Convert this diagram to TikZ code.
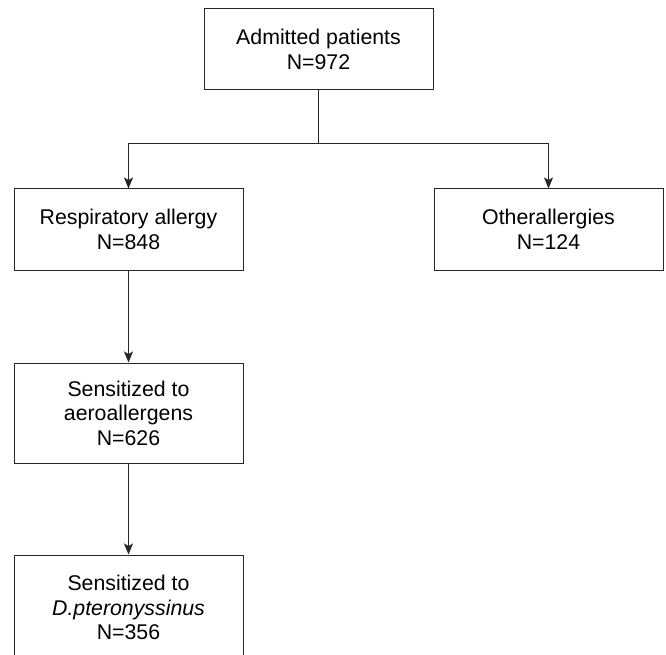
\documentclass[tikz,border=0pt]{standalone}
\usepackage{fontspec}
\setmainfont{Liberation Sans}
\usetikzlibrary{arrows.meta}
\begin{document}
\begin{tikzpicture}[x=1pt,y=-1pt,
  box/.style={draw=black!85, line width=1pt, rectangle, minimum width=229pt, align=center,
    font=\fontsize{21.3}{24.5}\selectfont, inner sep=0pt},
  conn/.style={draw=black!85, line width=1pt},
  arr/.style={conn, -{Stealth[length=11pt,width=9pt,inset=2.5pt]}}]
\useasboundingbox (0,0) rectangle (666,655);
\node[box, minimum height=81pt] (b1) at (318.5,49.5) {Admitted patients\\N=972};
\node[box, minimum height=81pt] (b2) at (128.5,229.5) {Respiratory allergy\\N=848};
\node[box, minimum height=81pt] (b3) at (548.5,229.5) {Otherallergies\\N=124};
\node[box, minimum height=100pt] (b4) at (128.5,413) {Sensitized to\\aeroallergens\\N=626};
\node[box, minimum height=105pt] (b5) at (128.5,607.5) {Sensitized to\\\textit{D.pteronyssinus}\\N=356};
\coordinate (j) at (318.5,144);
\draw[conn] (b1.south) -- (j);
\draw[arr] (j) -| (b2.north);
\draw[arr] (j) -| (b3.north);
\draw[arr] (b2.south) -- (b4.north);
\draw[arr] (b4.south) -- (b5.north);
\end{tikzpicture}
\end{document}
